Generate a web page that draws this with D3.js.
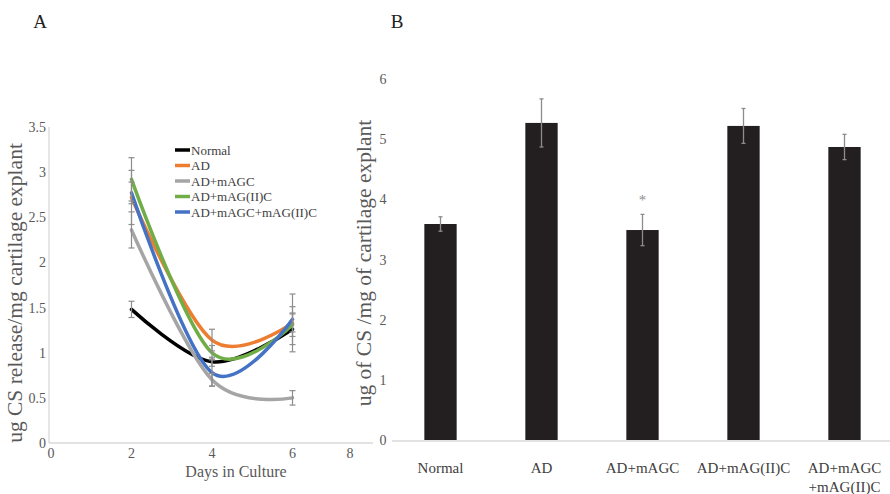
<!DOCTYPE html>
<html lang="en">
<head>
  <meta charset="UTF-8">
  <title>CS release</title>
  <script src="https://cdn.jsdelivr.net/npm/d3@7"></script>
  <style>
    body { margin: 0; background: #fff; }
    text { font-family: "Liberation Serif", "DejaVu Serif", serif; }
  </style>
</head>
<body>
  <div id="chart"></div>

  <script>
    // panel A - time course
    const days = [2, 4, 6];
    const seriesNames = ["Normal", "AD", "AD+mAGC", "AD+mAG(II)C", "AD+mAGC+mAG(II)C"];
    const normalVals = [1.48, 0.90, 1.26];
    const adVals = [2.72, 1.14, 1.33];
    const mAGCVals = [2.36, 0.70, 0.50];
    const mAGIICVals = [2.92, 1.00, 1.31];
    const bothVals = [2.77, 0.78, 1.37];
    const normalErr = [0.09, 0.05, 0.25];
    const adErr = [0.30, 0.12, 0.10];
    const mAGCErr = [0.20, 0.07, 0.08];
    const mAGIICErr = [0.24, 0.08, 0.13];
    const bothErr = [0.12, 0.15, 0.28];
    const lineColors = ["#000000", "#ed7d31", "#a5a5a5", "#70ad47", "#4472c4"];
    const xTicksA = [0, 2, 4, 6, 8];
    const yTicksA = [0, 0.5, 1, 1.5, 2, 2.5, 3, 3.5];

    // panel B - bars
    const groups = ["Normal", "AD", "AD+mAGC", "AD+mAG(II)C", "AD+mAGC+mAG(II)C"];
    const groupLabels = [["Normal"], ["AD"], ["AD+mAGC"], ["AD+mAG(II)C"], ["AD+mAGC", "+mAG(II)C"]];
    const barVals = [3.59, 5.27, 3.49, 5.22, 4.87];
    const barErr = [0.12, 0.40, 0.26, 0.29, 0.21];
    const yTicksB = [0, 1, 2, 3, 4, 5, 6];

    const width = 890, height = 494;
    const svg = d3.select("#chart").append("svg")
      .attr("width", width)
      .attr("height", height);

    const tickColor = "#595959";

    // ---------- A ----------
    const xA = d3.scaleLinear().domain([0, 8]).range([51, 373]);
    const yA = d3.scaleLinear().domain([0, 3.5]).range([443, 127]);

    svg.append("text").attr("x", 40).attr("y", 28)
      .attr("text-anchor", "middle").attr("font-size", 19).attr("fill", "#222").text("A");

    // axes lines
    svg.append("line").attr("x1", xA(0) - 2).attr("x2", xA(0) - 2)
      .attr("y1", yA(3.5)).attr("y2", yA(0))
      .attr("stroke", "#d9d9d9").attr("stroke-width", 1.3);
    svg.append("line").attr("x1", xA(0) - 2).attr("x2", xA(8))
      .attr("y1", yA(0)).attr("y2", yA(0))
      .attr("stroke", "#d9d9d9").attr("stroke-width", 1.3);

    svg.selectAll(".ytA").data(yTicksA).join("text")
      .attr("x", 46).attr("y", d => yA(d) + 5)
      .attr("text-anchor", "end").attr("font-size", 14).attr("fill", tickColor)
      .text(d => d);

    svg.selectAll(".xtA").data(xTicksA).join("text")
      .attr("x", d => d === 8 ? xA(d) - 23 : xA(d))
      .attr("y", 458)
      .attr("text-anchor", "middle").attr("font-size", 14).attr("fill", tickColor)
      .text(d => d);

    svg.append("text").attr("x", 236).attr("y", 477)
      .attr("text-anchor", "middle").attr("font-size", 16).attr("fill", tickColor)
      .text("Days in Culture");

    svg.append("text")
      .attr("transform", `translate(22,293) rotate(-90)`)
      .attr("text-anchor", "middle").attr("font-size", 21.5).attr("fill", tickColor)
      .text("ug CS release/mg cartilage explant");

    const allVals = [normalVals, adVals, mAGCVals, mAGIICVals, bothVals];
    const allErr = [normalErr, adErr, mAGCErr, mAGIICErr, bothErr];

    const line = d3.line()
      .x(d => xA(d[0]))
      .y(d => yA(d[1]))
      .curve(d3.curveCatmullRom.alpha(0));

    allVals.forEach((vals, i) => {
      svg.append("path")
        .datum(days.map((d, j) => [d, vals[j]]))
        .attr("d", line)
        .attr("fill", "none")
        .attr("stroke", lineColors[i])
        .attr("stroke-width", 3.5)
        .attr("stroke-linecap", "round");
    });

    // error bars A
    allVals.forEach((vals, i) => {
      days.forEach((d, j) => {
        const x = xA(d), lo = yA(vals[j] - allErr[i][j]), hi = yA(vals[j] + allErr[i][j]);
        const g = svg.append("g").attr("stroke", "#8c8c8c").attr("stroke-width", 1.2);
        g.append("line").attr("x1", x).attr("x2", x).attr("y1", lo).attr("y2", hi);
        g.append("line").attr("x1", x - 3).attr("x2", x + 3).attr("y1", lo).attr("y2", lo);
        g.append("line").attr("x1", x - 3).attr("x2", x + 3).attr("y1", hi).attr("y2", hi);
      });
    });

    // legend
    const leg = svg.append("g");
    seriesNames.forEach((name, i) => {
      const y = 150 + i * 15.5;
      leg.append("line").attr("x1", 175).attr("x2", 190).attr("y1", y).attr("y2", y)
        .attr("stroke", lineColors[i]).attr("stroke-width", 3.5);
      leg.append("text").attr("x", 191).attr("y", y + 4.5)
        .attr("font-size", 13).attr("fill", "#404040").text(name);
    });

    // ---------- B ----------
    const xB = d3.scaleBand().domain(groups).range([390, 895])
      .paddingInner(0.68).paddingOuter(0.34);
    const yB = d3.scaleLinear().domain([0, 6]).range([440, 79]);

    svg.append("text").attr("x", 397).attr("y", 28)
      .attr("text-anchor", "middle").attr("font-size", 19).attr("fill", "#222").text("B");

    svg.selectAll(".ytB").data(yTicksB).join("text")
      .attr("x", 383).attr("y", d => yB(d) + 5)
      .attr("text-anchor", "middle").attr("font-size", 14).attr("fill", tickColor)
      .text(d => d);

    svg.append("text")
      .attr("transform", `translate(371,263) rotate(-90)`)
      .attr("text-anchor", "middle").attr("font-size", 21.5).attr("fill", tickColor)
      .text("ug of CS /mg of cartilage explant");

    svg.append("line").attr("x1", 392).attr("x2", 890)
      .attr("y1", yB(0) + 1).attr("y2", yB(0) + 1)
      .attr("stroke", "#d9d9d9").attr("stroke-width", 1.3);

    svg.selectAll(".bar").data(groups).join("rect")
      .attr("x", d => xB(d))
      .attr("width", xB.bandwidth())
      .attr("y", (d, i) => yB(barVals[i]))
      .attr("height", (d, i) => yB(0) - yB(barVals[i]))
      .attr("fill", "#231f20");

    groups.forEach((g, i) => {
      const x = xB(g) + xB.bandwidth() / 2;
      const lo = yB(barVals[i] - barErr[i]), hi = yB(barVals[i] + barErr[i]);
      const eg = svg.append("g").attr("stroke", "#8c8c8c").attr("stroke-width", 1.3);
      eg.append("line").attr("x1", x).attr("x2", x).attr("y1", lo).attr("y2", hi);
      eg.append("line").attr("x1", x - 2).attr("x2", x + 2).attr("y1", hi).attr("y2", hi);
      eg.append("line").attr("x1", x - 2).attr("x2", x + 2).attr("y1", lo).attr("y2", lo);

      groupLabels[i].forEach((t, k) => {
        svg.append("text").attr("x", x).attr("y", 473 + k * 19)
          .attr("text-anchor", "middle").attr("font-size", 15).attr("fill", "#404040")
          .text(t);
      });
    });

    // significance mark
    const starG = groups[2];
    svg.append("text")
      .attr("x", xB(starG) + xB.bandwidth() / 2)
      .attr("y", yB(barVals[2] + barErr[2]) - 9)
      .attr("text-anchor", "middle").attr("font-size", 15).attr("fill", "#8c8c8c")
      .text("*");
  </script>
</body>
</html>
